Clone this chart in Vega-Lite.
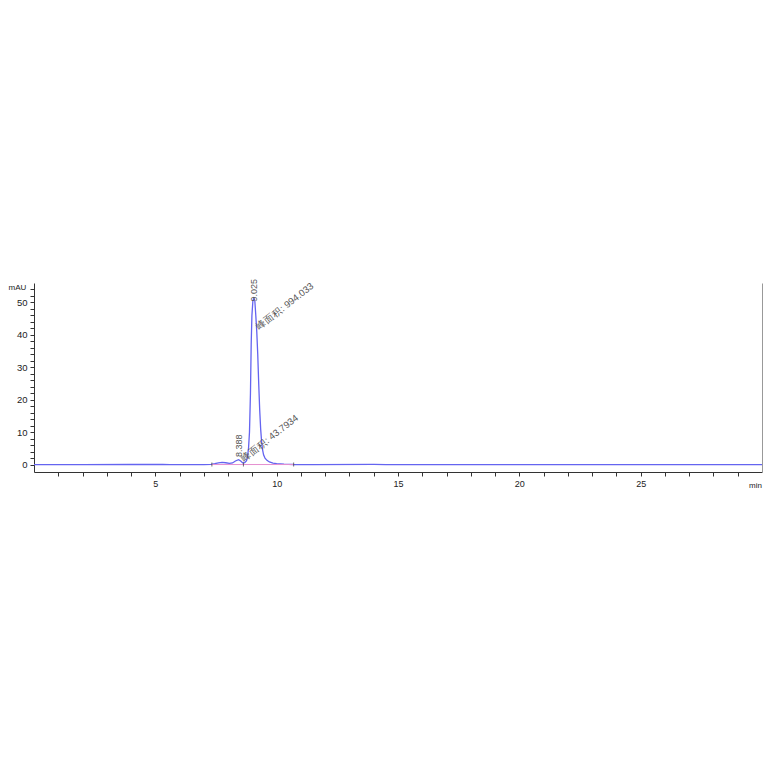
{
  "$schema": "https://vega.github.io/schema/vega-lite/v6.json",
  "description": "HPLC chromatogram with two integrated peaks.",
  "width": 728,
  "height": 189,
  "autosize": "none",
  "padding": {"left": 34, "top": 283, "right": 2, "bottom": 292},
  "background": "white",
  "config": {
    "view": {"stroke": null},
    "font": "Liberation Sans",
    "axis": {"grid": false, "domainColor": "#333", "tickColor": "#333", "labelColor": "#222", "titleColor": "#222", "titleFontWeight": "normal"}
  },
  "datasets": {
    "trace": [
      {"t": 0, "mAU": 0}, {"t": 2, "mAU": 0}, {"t": 4, "mAU": 0.02}, {"t": 5.3, "mAU": 0.05},
      {"t": 5.6, "mAU": 0}, {"t": 7, "mAU": 0}, {"t": 7.3, "mAU": 0.05}, {"t": 7.45, "mAU": 0.25},
      {"t": 7.6, "mAU": 0.5}, {"t": 7.75, "mAU": 0.65}, {"t": 7.9, "mAU": 0.55}, {"t": 8.05, "mAU": 0.35},
      {"t": 8.18, "mAU": 0.5}, {"t": 8.3, "mAU": 1.1}, {"t": 8.43, "mAU": 1.5}, {"t": 8.52, "mAU": 1.1},
      {"t": 8.6, "mAU": 0.5}, {"t": 8.66, "mAU": 0.5}, {"t": 8.7, "mAU": 0.7}, {"t": 8.76, "mAU": 1.2},
      {"t": 8.8, "mAU": 2.5}, {"t": 8.84, "mAU": 5}, {"t": 8.88, "mAU": 10}, {"t": 8.92, "mAU": 22},
      {"t": 8.95, "mAU": 37}, {"t": 8.98, "mAU": 46}, {"t": 9.02, "mAU": 50.5}, {"t": 9.06, "mAU": 51.3},
      {"t": 9.1, "mAU": 50.5}, {"t": 9.14, "mAU": 46}, {"t": 9.18, "mAU": 41}, {"t": 9.22, "mAU": 34},
      {"t": 9.26, "mAU": 25}, {"t": 9.3, "mAU": 17}, {"t": 9.34, "mAU": 11}, {"t": 9.38, "mAU": 7},
      {"t": 9.42, "mAU": 4.5}, {"t": 9.46, "mAU": 3}, {"t": 9.52, "mAU": 2}, {"t": 9.6, "mAU": 1.3},
      {"t": 9.7, "mAU": 0.8}, {"t": 9.85, "mAU": 0.45}, {"t": 10, "mAU": 0.3}, {"t": 10.3, "mAU": 0.1},
      {"t": 10.7, "mAU": 0.02}, {"t": 11.5, "mAU": 0}, {"t": 14, "mAU": 0.05}, {"t": 14.5, "mAU": 0},
      {"t": 20, "mAU": 0}, {"t": 25, "mAU": 0}, {"t": 30, "mAU": 0}
    ],
    "baseline": [
      {"t": 7.33, "mAU": 0}, {"t": 10.7, "mAU": 0}
    ],
    "events": [
      {"t": 7.33, "mAU": 0}, {"t": 8.63, "mAU": 0}, {"t": 10.7, "mAU": 0}
    ],
    "labels": [
      {"t": 9.06, "mAU": 50.3, "label": "9.025", "kind": "rt"},
      {"t": 8.43, "mAU": 2.3, "label": "8.388", "kind": "rt"},
      {"t": 9.21, "mAU": 42.2, "label": "峰面积: 994.033", "kind": "area"},
      {"t": 8.58, "mAU": 1.5, "label": "峰面积: 43.7934", "kind": "area"}
    ]
  },
  "encoding": {
    "x": {
      "field": "t",
      "type": "quantitative",
      "scale": {"domain": [0, 30], "nice": false, "zero": false},
      "axis": {
        "values": [1,2,3,4,5,6,7,8,9,10,11,12,13,14,15,16,17,18,19,20,21,22,23,24,25,26,27,28,29],
        "labelExpr": "datum.value % 5 === 0 ? datum.label : ''",
        "tickSize": 4,
        "labelFontSize": 9,
        "labelPadding": 3,
        "labelFlush": false,
        "labelOverlap": false,
        "title": "min",
        "titleFontSize": 8,
        "titleX": 721,
        "titleY": 13,
        "titleAlign": "center",
        "titleBaseline": "middle"
      }
    },
    "y": {
      "field": "mAU",
      "type": "quantitative",
      "scale": {"domain": [-2.3, 56], "nice": false, "zero": false},
      "axis": null
    }
  },
  "layer": [
    {
      "data": {"name": "trace"},
      "mark": {"type": "line", "color": "#6464f0", "strokeWidth": 1.3, "clip": true},
      "encoding": {
        "y": {
          "field": "mAU",
          "type": "quantitative",
          "axis": {
            "values": [0,2,4,6,8,10,12,14,16,18,20,22,24,26,28,30,32,34,36,38,40,42,44,46,48,50,52,54],
            "labelExpr": "datum.value % 10 === 0 ? datum.label : ''",
            "tickSize": 4,
            "labelFontSize": 9.5,
            "labelPadding": 3,
            "labelOverlap": false,
            "title": "mAU",
            "titleFontSize": 8,
            "titleAngle": 0,
            "titleX": -17,
            "titleY": 4,
            "titleAlign": "center",
            "titleBaseline": "middle"
          }
        }
      }
    },
    {
      "data": {"name": "baseline"},
      "mark": {"type": "line", "color": "#e58fd0", "strokeWidth": 1},
      "encoding": {
        "y": {
          "field": "mAU",
          "type": "quantitative",
          "axis": {"orient": "right", "ticks": false, "labels": false, "title": null, "domainColor": "#999"}
        }
      }
    },
    {
      "data": {"name": "events"},
      "mark": {"type": "tick", "orient": "vertical", "size": 4, "thickness": 1, "color": "#333"}
    },
    {
      "data": {"name": "labels"},
      "transform": [{"filter": "datum.kind === 'rt'"}],
      "mark": {"type": "text", "angle": 270, "align": "left", "baseline": "middle", "fontSize": 9, "color": "#555"},
      "encoding": {"text": {"field": "label"}}
    },
    {
      "data": {"name": "labels"},
      "transform": [{"filter": "datum.kind === 'area'"}],
      "mark": {"type": "text", "angle": 322, "align": "left", "baseline": "middle", "fontSize": 9.5, "color": "#555"},
      "encoding": {"text": {"field": "label"}}
    }
  ],
  "resolve": {"axis": {"y": "independent"}}
}
